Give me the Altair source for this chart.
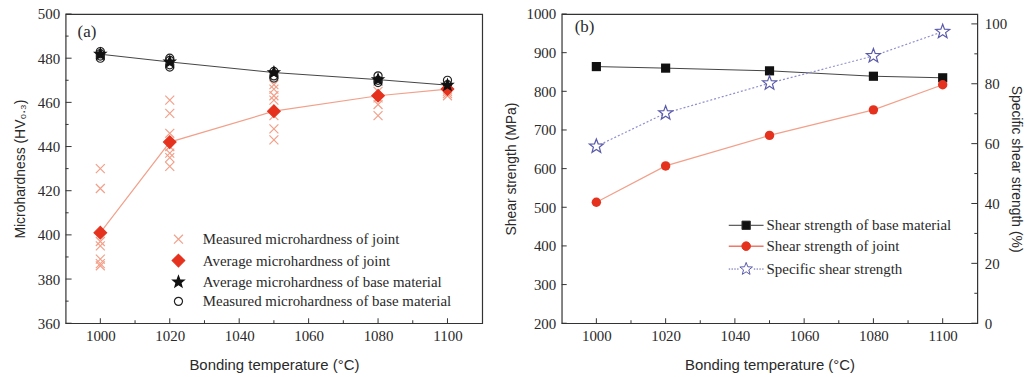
import math
import altair as alt
import pandas as pd

# ---------------- data ----------------
temps = [1000, 1020, 1050, 1080, 1100]

# panel (a)
avg_joint_hv = [401, 442, 456, 463, 466]
avg_base_hv = [481.8, 478.3, 473.5, 470.3, 467.8]
meas_joint_t = [1000] * 7 + [1020] * 7 + [1050] * 7 + [1080] * 4 + [1100] * 4
meas_joint_hv = [430, 421, 397, 395, 389, 387, 386,
                 461, 455, 446, 440, 437, 435, 431,
                 468, 466, 463, 461, 454, 448, 443,
                 465, 462, 459, 454,
                 466, 465, 464, 463]
meas_base_t = [1000] * 4 + [1020] * 4 + [1050] * 3 + [1080] * 3 + [1100] * 3
meas_base_hv = [483, 482, 481, 480,
                480, 479, 477, 476,
                474, 472, 471,
                472, 470, 469,
                470, 468, 466]

# panel (b)
shear_base = [864, 860, 853, 839, 835]
shear_joint = [513, 607, 686, 752, 817]
specific = [59.1, 70.2, 80.2, 89.3, 97.4]

# ticks
x_major = [1000, 1020, 1040, 1060, 1080, 1100]
x_minor = [1010, 1030, 1050, 1070, 1090]
ya_major = [360, 380, 400, 420, 440, 460, 480, 500]
ya_minor = [370, 390, 410, 430, 450, 470, 490]
yb_major = [200, 300, 400, 500, 600, 700, 800, 900, 1000]
yr_major = [0, 20, 40, 60, 80, 100]
yr_minor = [10, 30, 50, 70, 90]

series_a = ["Measured microhardness of joint", "Average microhardness of joint",
            "Average microhardness of base material", "Measured microhardness of base material"]
series_b = ["Shear strength of base material", "Shear strength of joint", "Specific shear strength"]

# ---------------- styles ----------------
W_A, W_B, H = 419, 418, 311
SERIF = "Liberation Serif"
SANS = "Liberation Sans"
TXT = "#2a2a2a"
SALMON = "#f2a08a"
RED = "#e5321e"
BLUE = "#5a5aaa"
BLUE_L = "#8f8fd0"


def star_path(inner=0.42, outer=1.0):
    pts = []
    for k in range(10):
        r = outer if k % 2 == 0 else inner
        a = -math.pi / 2 + k * math.pi / 5
        pts.append(f"{r*math.cos(a):.3f},{r*math.sin(a):.3f}")
    return "M" + "L".join(pts) + "Z"


def circle_path(r):
    return f"M{r},0A{r},{r} 0 1,1 {-r},0A{r},{r} 0 1,1 {r},0Z"


# shapes for panel (a), all drawn at one symbol size
XMARK = "M-0.75,-0.75L0.75,0.75M-0.75,0.75L0.75,-0.75"
DIAM = "M0,-1.05L1.05,0L0,1.05L-1.05,0Z"
STAR_A = star_path(0.42, 1.0)
CIRC_A = circle_path(0.68)

x_scale = alt.Scale(domain=[990, 1110], nice=False, zero=False)
x_axis = alt.Axis(values=x_major, ticks=False, domain=False, grid=False, format="d",
                  labelFont=SERIF, labelFontSize=15, labelColor=TXT, labelPadding=5,
                  title="Bonding temperature (°C)", titleFont=SANS, titleFontSize=15,
                  titleFontWeight="normal", titleColor=TXT, titlePadding=15)


def yaxis(title, values, orient="left", label_pad=6, title_pad=10):
    return alt.Axis(values=values, ticks=False, domain=False, grid=False, orient=orient, format="d",
                    labelFont=SERIF, labelFontSize=15, labelColor=TXT, labelPadding=label_pad,
                    title=title, titleFont=SANS, titleFontSize=14, titleFontWeight="normal",
                    titleColor=TXT, titlePadding=title_pad)


def xticks(vals, length):
    return alt.Chart(pd.DataFrame({"v": vals})).mark_rule(color="#333", strokeWidth=1).encode(
        x=alt.X("v:Q", scale=x_scale, axis=x_axis),
        y=alt.value(H), y2=alt.value(H - length))


def yticks(vals, length, yenc_kwargs, left=True, width=W_A):
    if left:
        xx = dict(x=alt.value(0), x2=alt.value(length))
    else:
        xx = dict(x=alt.value(width), x2=alt.value(width - length))
    return alt.Chart(pd.DataFrame({"v": vals})).mark_rule(color="#333", strokeWidth=1).encode(
        y=alt.Y("v:Q", **yenc_kwargs), **xx)


# ---------------- panel (a) ----------------
ya_scale = alt.Scale(domain=[360, 500], nice=False, zero=False)
ya_axis = yaxis("Microhardness (HV₀.₃)", ya_major, label_pad=6, title_pad=10)
ya_kw = dict(scale=ya_scale, axis=ya_axis)

pts_a = pd.DataFrame({
    "series": [series_a[0]] * len(meas_joint_t) + [series_a[3]] * len(meas_base_t)
              + [series_a[1]] * len(temps) + [series_a[2]] * len(temps),
    "t": meas_joint_t + meas_base_t + temps + temps,
    "v": meas_joint_hv + meas_base_hv + avg_joint_hv + avg_base_hv,
})

leg_a = alt.Legend(title=None, orient="none", legendX=106, legendY=219, padding=0,
                   labelFont=SERIF, labelFontSize=15, labelColor=TXT, rowPadding=3.5,
                   labelOffset=17, symbolSize=144, symbolStrokeWidth=1.2, labelLimit=0)

line_a_base = alt.Chart(pd.DataFrame({"t": temps, "v": avg_base_hv})).mark_line(
    color="#444", strokeWidth=1).encode(x=alt.X("t:Q", scale=x_scale, axis=x_axis),
                                        y=alt.Y("v:Q", **ya_kw))
line_a_joint = alt.Chart(pd.DataFrame({"t": temps, "v": avg_joint_hv})).mark_line(
    color=SALMON, strokeWidth=1.2).encode(x=alt.X("t:Q", scale=x_scale, axis=x_axis),
                                          y=alt.Y("v:Q", **ya_kw))
points_a = alt.Chart(pts_a).mark_point(strokeWidth=1.2, opacity=1, size=144).encode(
    x=alt.X("t:Q", scale=x_scale, axis=x_axis),
    y=alt.Y("v:Q", **ya_kw),
    shape=alt.Shape("series:N", scale=alt.Scale(domain=series_a,
                    range=[XMARK, DIAM, STAR_A, CIRC_A]), legend=leg_a),
    fill=alt.Fill("series:N", scale=alt.Scale(domain=series_a,
                  range=["transparent", RED, "#111", "transparent"]), legend=leg_a),
    stroke=alt.Stroke("series:N", scale=alt.Scale(domain=series_a,
                      range=[SALMON, RED, "#111", "#222"]), legend=leg_a),
)
label_a = alt.Chart(pd.DataFrame({"label": ["(a)"]})).mark_text(
    font=SERIF, fontSize=17, color=TXT, align="left", baseline="middle").encode(
    text="label:N", x=alt.value(12), y=alt.value(18))

panel_a = alt.layer(
    line_a_base, line_a_joint, points_a, label_a,
    xticks(x_major, 5), xticks(x_minor, 3),
    yticks(ya_major, 6, ya_kw), yticks(ya_minor, 3, ya_kw),
).properties(width=W_A, height=H)

# ---------------- panel (b) ----------------
yb_scale = alt.Scale(domain=[200, 1000], nice=False, zero=False)
yb_axis = yaxis("Shear strength (MPa)", yb_major, label_pad=6, title_pad=7)
yb_kw = dict(scale=yb_scale, axis=yb_axis)
yr_scale = alt.Scale(domain=[0, 103.3], nice=False, zero=False)
yr_axis = yaxis("Specific shear strength (%)", yr_major, orient="right", label_pad=7, title_pad=2)
yr_kw = dict(scale=yr_scale, axis=yr_axis)

df_b = pd.DataFrame({"t": temps, "base": shear_base, "joint": shear_joint, "spec": specific})
xb = alt.X("t:Q", scale=x_scale, axis=x_axis)

b_base_line = alt.Chart(df_b).mark_line(color="#444", strokeWidth=1).encode(
    x=xb, y=alt.Y("base:Q", **yb_kw))
b_base_pts = alt.Chart(df_b).mark_point(shape="square", filled=True, color="#111",
                                        size=85, opacity=1).encode(x=xb, y=alt.Y("base:Q", **yb_kw))
b_joint_line = alt.Chart(df_b).mark_line(color=SALMON, strokeWidth=1.2).encode(
    x=xb, y=alt.Y("joint:Q", **yb_kw))
b_joint_pts = alt.Chart(df_b).mark_point(shape="circle", filled=True, color=RED,
                                         size=90, opacity=1).encode(x=xb, y=alt.Y("joint:Q", **yb_kw))

SQ_LEG = "M-2.5,0H-0.6M0.6,0H2.5M-0.6,-0.6H0.6V0.6H-0.6Z"
CI_LEG = "M-2.5,0H-0.6M0.6,0H2.5" + circle_path(0.62)
dots = "".join(f"M{a:.2f},0H{a+0.2:.2f}" for a in [-2.5, -2.1, -1.7, -1.3, 1.1, 1.5, 1.9, 2.3])
ST_LEG = dots + star_path(0.4, 0.95)

leg_b = alt.Legend(title=None, orient="none", legendX=178, legendY=205, padding=0,
                   labelFont=SERIF, labelFontSize=15, labelColor=TXT, rowPadding=5,
                   labelOffset=13, symbolSize=196, symbolStrokeWidth=1, labelLimit=0)
legend_b = alt.Chart(pd.DataFrame({"series": series_b})).transform_filter("false").mark_point(
    opacity=1).encode(
    shape=alt.Shape("series:N", scale=alt.Scale(domain=series_b, range=[SQ_LEG, CI_LEG, ST_LEG]),
                    legend=leg_b),
    fill=alt.Fill("series:N", scale=alt.Scale(domain=series_b, range=["#111", RED, "white"]),
                  legend=leg_b),
    stroke=alt.Stroke("series:N", scale=alt.Scale(domain=series_b, range=["#333", RED, BLUE]),
                      legend=leg_b),
)
label_b = alt.Chart(pd.DataFrame({"label": ["(b)"]})).mark_text(
    font=SERIF, fontSize=17, color=TXT, align="left", baseline="middle").encode(
    text="label:N", x=alt.value(13), y=alt.value(13))

left_group = alt.layer(
    b_base_line, b_joint_line, b_base_pts, b_joint_pts, legend_b, label_b,
    xticks(x_major, 5), xticks(x_minor, 3),
    yticks(yb_major, 5, yb_kw),
)

b_spec_line = alt.Chart(df_b).mark_line(color=BLUE_L, strokeWidth=1.2, strokeDash=[2, 2]).encode(
    x=xb, y=alt.Y("spec:Q", **yr_kw))
b_spec_pts = alt.Chart(df_b).mark_point(shape=star_path(0.42, 1.0), filled=False, color=BLUE,
                                        fill="white", size=220, strokeWidth=1.2, opacity=1).encode(
    x=xb, y=alt.Y("spec:Q", **yr_kw))
right_group = alt.layer(
    b_spec_line, b_spec_pts,
    yticks(yr_major, 6, yr_kw, left=False, width=W_B),
    yticks(yr_minor, 3, yr_kw, left=False, width=W_B),
)

panel_b = alt.layer(left_group, right_group).resolve_scale(y="independent").properties(
    width=W_B, height=H)

chart = alt.hconcat(panel_a, panel_b, spacing=21).resolve_scale(
    shape="independent", fill="independent", stroke="independent"
).properties(
    padding={"left": 12, "top": 5, "right": 7, "bottom": 4}
).configure_view(stroke="#333", strokeWidth=1.2).configure_axis(
    labelFont=SERIF, titleFont=SANS
)

chart.save("out.html", embed_options={"renderer": "svg", "actions": False})
